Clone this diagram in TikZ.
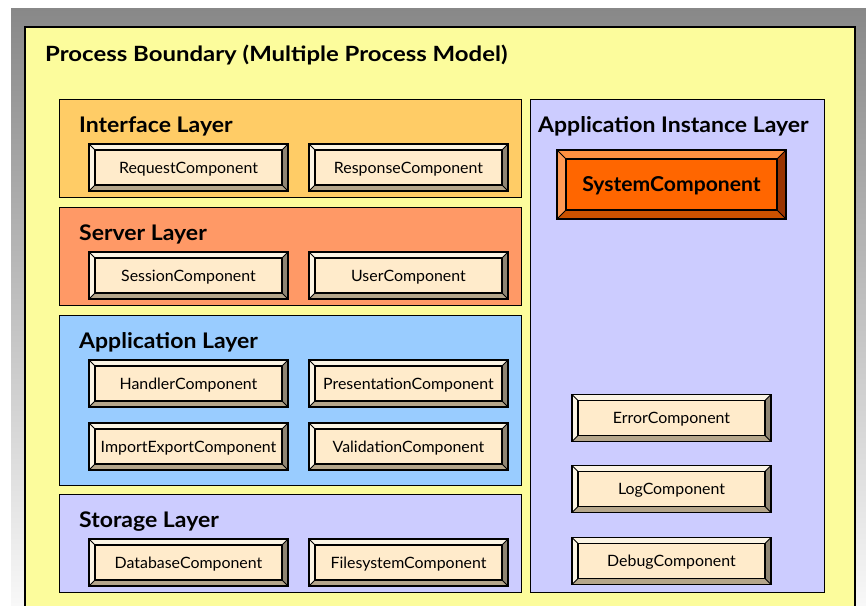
\documentclass[tikz,border=0pt]{standalone}
\usepackage{fontspec}
\setmainfont{Lato}
\newfontfamily\layerfont{Lato}[FakeStretch=1.07]
\newfontfamily\sysfont{Lato}[FakeStretch=1.03]
\newfontfamily\procfont{Lato}[FakeStretch=1.14]
\newfontfamily\compfont{Lato}[FakeStretch=1.02]
\usetikzlibrary{calc}
\definecolor{bgtop}{HTML}{888888}
\definecolor{bgbot}{HTML}{F8F8F8}
\definecolor{procyellow}{HTML}{FCFC9C}
\definecolor{ifacecol}{HTML}{FFCC66}
\definecolor{servercol}{HTML}{FF9966}
\definecolor{appcol}{HTML}{99CCFF}
\definecolor{storecol}{HTML}{CCCCFF}
\definecolor{cream}{HTML}{FFEBCB}
\definecolor{creamlight}{HTML}{FBF4E4}
\definecolor{creamright}{HTML}{8F8573}
\definecolor{creambottom}{HTML}{B5A68B}
\definecolor{sysfill}{HTML}{FF6600}
\definecolor{systop}{HTML}{FF9040}
\definecolor{sysleft}{HTML}{FF9A55}
\definecolor{sysright}{HTML}{993300}
\definecolor{sysbottom}{HTML}{CC5200}
\tikzset{
  bevel/.style n args={5}{path picture={
    \def\bw{#5}
    \fill[#1] (path picture bounding box.north west) -- (path picture bounding box.north east)
      -- ([shift={(-\bw,-\bw)}]path picture bounding box.north east)
      -- ([shift={(\bw,-\bw)}]path picture bounding box.north west) -- cycle;
    \fill[#2] (path picture bounding box.north west) -- (path picture bounding box.south west)
      -- ([shift={(\bw,\bw)}]path picture bounding box.south west)
      -- ([shift={(\bw,-\bw)}]path picture bounding box.north west) -- cycle;
    \fill[#3] (path picture bounding box.north east) -- (path picture bounding box.south east)
      -- ([shift={(-\bw,\bw)}]path picture bounding box.south east)
      -- ([shift={(-\bw,-\bw)}]path picture bounding box.north east) -- cycle;
    \fill[#4] (path picture bounding box.south west) -- (path picture bounding box.south east)
      -- ([shift={(-\bw,\bw)}]path picture bounding box.south east)
      -- ([shift={(\bw,\bw)}]path picture bounding box.south west) -- cycle;
    \draw[black, line width=1.2pt] ([shift={(\bw,-\bw)}]path picture bounding box.north west)
      rectangle ([shift={(-\bw,\bw)}]path picture bounding box.south east);
    \draw[black, line width=0.9pt]
      (path picture bounding box.north west) -- ([shift={(\bw,-\bw)}]path picture bounding box.north west)
      (path picture bounding box.north east) -- ([shift={(-\bw,-\bw)}]path picture bounding box.north east)
      (path picture bounding box.south west) -- ([shift={(\bw,\bw)}]path picture bounding box.south west)
      (path picture bounding box.south east) -- ([shift={(-\bw,\bw)}]path picture bounding box.south east);
  }},
  comp/.style={draw=black, line width=1.8pt, fill=cream, minimum width=199pt, minimum height=47pt,
    inner sep=0pt, text height=11.2pt, text depth=0pt, font=\compfont\fontsize{15.6}{15.6}\selectfont,
    bevel={creamlight}{creamlight}{creamright}{creambottom}{6pt}},
  syscomp/.style={draw=black, line width=1.8pt, fill=sysfill, minimum width=229pt, minimum height=69pt,
    inner sep=0pt, text height=14.6pt, text depth=0pt, font=\sysfont\fontsize{20.5}{20.5}\selectfont\bfseries,
    bevel={systop}{sysleft}{sysright}{sysbottom}{9pt}},
  layer/.style={draw=black, line width=1.4pt, anchor=north west, inner sep=0pt},
  ltitle/.style={anchor=base west, inner sep=0pt, font=\layerfont\fontsize{21.5}{21.5}\selectfont\bfseries},
}
\begin{document}
\begin{tikzpicture}[x=1pt,y=-1pt]
\useasboundingbox (0,0) rectangle (866,605);
\shade[top color=bgtop, bottom color=bgbot] (11,8) rectangle (866,605);
\draw[fill=procyellow, line width=1.6pt] (25,27) rectangle (855,625);
\node[ltitle, font=\procfont\fontsize{21}{21}\selectfont\bfseries] (ptitle) at (45,61) {Process Boundary (Multiple Process Model)};

% layers
\node[layer, fill=ifacecol, minimum width=462pt, minimum height=98pt] (iface) at (59,99) {};
\node[layer, fill=servercol, minimum width=462pt, minimum height=98pt] (server) at (59,207) {};
\node[layer, fill=appcol, minimum width=462pt, minimum height=170pt] (app) at (59,315) {};
\node[layer, fill=storecol, minimum width=462pt, minimum height=98pt] (store) at (59,494) {};
\node[layer, fill=storecol, minimum width=294pt, minimum height=493pt] (inst) at (530,99) {};

\node[ltitle] (ifaceT) at (79,132.5) {Interface Layer};
\node[ltitle] (serverT) at (79,240.5) {Server Layer};
\node[ltitle] (appT) at (79,348.5) {Application Layer};
\node[ltitle] (storeT) at (79,527.5) {Storage Layer};
\node[ltitle] (instT) at (538,132.5) {Application Instance Layer};

% components
\node[comp] (req) at (188.5,167.5) {RequestComponent};
\node[comp] (resp) at (408.5,167.5) {ResponseComponent};
\node[comp] (sess) at (188.5,275.5) {SessionComponent};
\node[comp] (user) at (408.5,275.5) {UserComponent};
\node[comp] (hand) at (188.5,383.5) {HandlerComponent};
\node[comp] (pres) at (408.5,383.5) {PresentationComponent};
\node[comp] (impex) at (188.5,446.5) {ImportExportComponent};
\node[comp] (valid) at (408.5,446.5) {ValidationComponent};
\node[comp] (db) at (188.5,562.5) {DatabaseComponent};
\node[comp] (fs) at (408.5,562.5) {FilesystemComponent};

\node[syscomp] (sys) at (671.5,184.5) {SystemComponent};
\node[comp] (err) at (671.5,418) {ErrorComponent};
\node[comp] (log) at (671.5,489) {LogComponent};
\node[comp] (dbg) at (671.5,561) {DebugComponent};
\end{tikzpicture}
\end{document}
